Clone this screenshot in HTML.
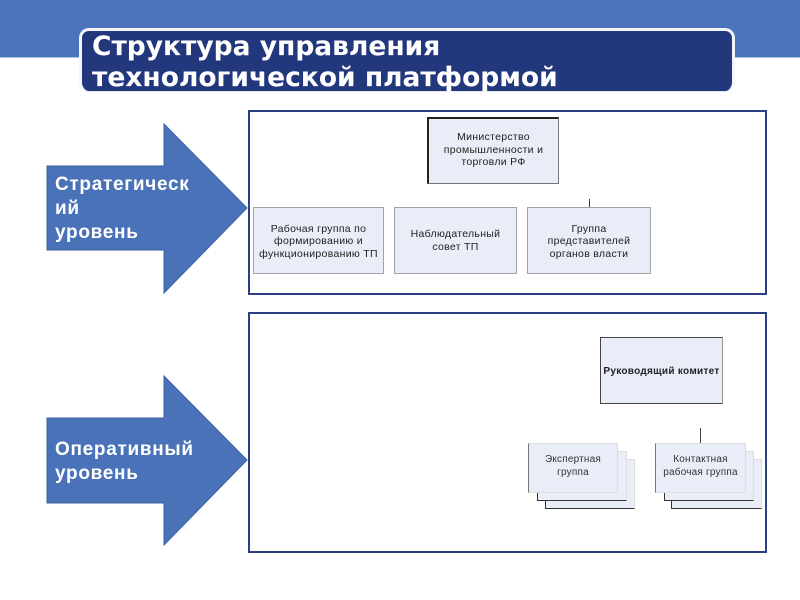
<!DOCTYPE html>
<html><head><meta charset="utf-8">
<style>
html,body{margin:0;padding:0;background:#fff}
#p{position:relative;width:800px;height:600px;overflow:hidden;background:#fff;font-family:"Liberation Sans",sans-serif}
#p div{position:absolute;box-sizing:border-box}
.t{display:flex;align-items:center;justify-content:center;text-align:center;color:#222;font-size:10.5px;letter-spacing:.3px;line-height:12.5px;background:#e8edf7;border:1px solid #a0a5ac;white-space:nowrap}
.st{background:#e8edf7;border-right:1px solid #ddd;border-top:1px solid #ddd;border-left:1.5px solid #333;border-bottom:1.5px solid #333}
.a{color:#fff;font-weight:bold;font-size:19px;letter-spacing:.7px;line-height:24px;white-space:nowrap}
svg{position:absolute;left:0;top:0}
</style></head><body><div id="p">
<div style="left:0;top:0;width:800px;height:58px;background:#4c74ba;border-bottom:1px solid #a9bcdd"></div>
<div style="left:79px;top:28px;width:656px;height:64px;background:#23377d;border:3px solid #f3f5fa;border-bottom:1px solid #e6e9f2;border-radius:10px"></div>
<div style="left:92px;top:31px;color:#fff;font-family:'DejaVu Sans',sans-serif;font-weight:bold;font-size:26.5px;line-height:31px;white-space:nowrap">Структура управления<br>технологической платформой</div>

<svg width="800" height="600">
<polygon points="47,166 164,166 164,124 247,208 164,293 164,250 47,250" fill="#4a72b8" stroke="#3d62a4" stroke-width="1"/>
<polygon points="47,418 164,418 164,376 247,460 164,545 164,503 47,503" fill="#4a72b8" stroke="#3d62a4" stroke-width="1"/>
</svg>
<div class="a" style="left:55px;top:173px">Стратегическ<br>ий<br>уровень</div>
<div class="a" style="left:55px;top:438px">Оперативный<br>уровень</div>

<div style="left:248px;top:110px;width:519px;height:185px;border:2px solid #2c3f80;background:#fff"></div>
<div style="left:248px;top:312px;width:519px;height:241px;border:2px solid #2c3f80;background:#fff"></div>

<div class="t" style="left:427px;top:117px;width:132px;height:67px;border:1px solid #777;border-left:2px solid #222;border-top:2px solid #222;padding-bottom:2px">Министерство<br>промышленности и<br>торговли РФ</div>
<div style="left:589px;top:199px;width:1px;height:9px;background:#444"></div>
<div class="t" style="left:253px;top:207px;width:131px;height:67px;padding-top:2px">Рабочая группа по<br>формированию и<br>функционированию ТП</div>
<div class="t" style="left:394px;top:207px;width:123px;height:67px">Наблюдательный<br>совет ТП</div>
<div class="t" style="left:527px;top:207px;width:124px;height:67px;padding-top:2px">Группа<br>представителей<br>органов власти</div>

<div class="t" style="left:600px;top:337px;width:123px;height:67px;border:1px solid #999;border-left:1.5px solid #444;border-top:1.5px solid #444;border-bottom:1.5px solid #444;font-weight:bold;font-size:10px;padding-top:3px">Руководящий комитет</div>
<div style="left:700px;top:428px;width:1px;height:15px;background:#444"></div>

<div class="st" style="left:545px;top:459px;width:90px;height:50px"></div>
<div class="st" style="left:537px;top:451px;width:90px;height:50px"></div>
<div class="t" style="left:528px;top:443px;width:90px;height:50px;border:1px solid #ddd;border-left:1px solid #777;color:#333;padding-bottom:3px;font-size:10px;letter-spacing:.2px">Экспертная<br>группа</div>

<div class="st" style="left:671px;top:459px;width:91px;height:50px"></div>
<div class="st" style="left:664px;top:451px;width:90px;height:50px"></div>
<div class="t" style="left:655px;top:443px;width:91px;height:50px;border:1px solid #ddd;border-left:1px solid #777;color:#333;padding-bottom:3px;font-size:10px;letter-spacing:.2px">Контактная<br>рабочая группа</div>
</div></body></html>
